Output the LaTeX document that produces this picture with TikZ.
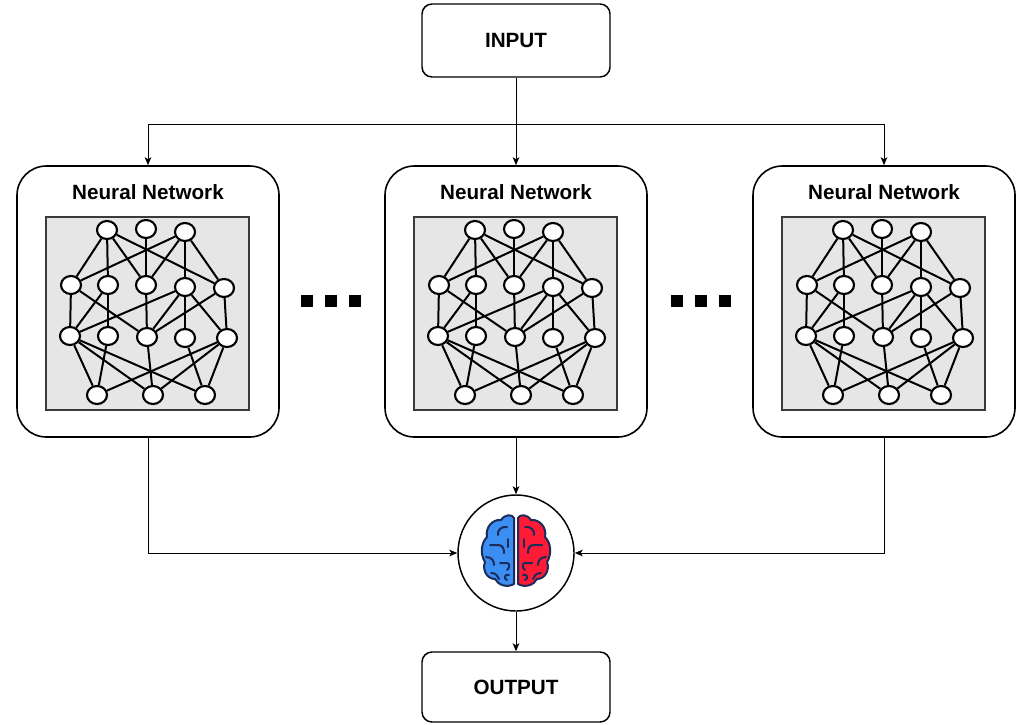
\documentclass[tikz,border=0pt]{standalone}
\usepackage{fontspec}
\setmainfont{Liberation Sans}
\usetikzlibrary{arrows.meta,shapes.geometric}
\definecolor{gridgray}{HTML}{E6E6E6}
\definecolor{gridedge}{HTML}{3A3A3A}
\definecolor{brainblue}{HTML}{3B8FF3}
\definecolor{brainred}{HTML}{FF1B35}
\definecolor{brainink}{HTML}{1C2B5A}
\begin{document}
\begin{tikzpicture}[x=0.75pt,y=-0.75pt,
  labelfont/.style={font=\fontsize{15.5}{18}\selectfont\bfseries},
  iobox/.style={draw, line width=1.1pt, rounded corners=7.5pt, minimum width=141pt, labelfont},
  panel/.style={draw, line width=1.2pt, rounded corners=22pt, minimum width=196.5pt, minimum height=203.25pt},
  grid/.style={draw=gridedge, fill=gridgray, line width=1.1pt, minimum width=152.25pt, minimum height=144.75pt},
  neuron/.style={ellipse, draw, fill=white, line width=1.6pt, inner sep=0pt, minimum width=15pt, minimum height=13.5pt},
  edge/.style={line width=1.5pt},
  conn/.style={line width=0.75pt, -{Stealth[length=6pt,width=5pt,inset=1.5pt]}},
  dotsq/.style={fill=black, minimum size=9pt, inner sep=0pt},
  brainline/.style={draw=brainink, line width=1.5pt, line cap=round, line join=round}
]
\useasboundingbox (0,0) rectangle (1019,724);

% three identical network panels
\foreach \p/\dx in {1/0, 2/368, 3/736} {
  \begin{scope}[shift={(\dx,0)}]
    \node[panel] (panel\p) at (148,301.5) {};
    \node[labelfont] (title\p) at (148,192) {Neural Network};
    \node[grid] (grid\p) at (147.5,313.5) {};
    \foreach \n/\x/\y in {T1/107/230, T2/146/229, T3/185/232,
                          A1/71/285, A2/108/285, A3/146/285, A4/185/287, A5/224/288,
                          B1/70/336, B2/108/336, B3/147/337, B4/185/338, B5/227/338,
                          C1/97/395, C2/153/395, C3/205/395}
      \node[neuron] (n\p\n) at (\x,\y) {};
    \foreach \a/\b in {T1/A1, T1/A2, T1/A3, T1/A5, T2/A3, T3/A1, T3/A3, T3/A4, T3/A5,
                       A1/B1, A1/B3, A2/B1, A2/B2, A3/B3, A4/B1, A4/B3, A4/B4, A4/B5, A5/B3, A5/B5,
                       B1/C1, B1/C2, B1/C3, B2/C1, B3/C2, B4/C3, B5/C1, B5/C2, B5/C3}
      \draw[edge] (n\p\a) -- (n\p\b);
  \end{scope}
}

% ellipsis marks between panels
\foreach \i/\x in {1/307, 2/331, 3/355, 4/677, 5/701, 6/725}
  \node[dotsq] (dot\i) at (\x,301) {};

% input, combiner and output
\node[iobox, minimum height=54.75pt] (input) at (516,40.5) {INPUT};
\node[iobox, minimum height=52.5pt] (output) at (516,687) {OUTPUT};
\node[circle, draw, line width=1.1pt, minimum size=87pt, inner sep=0pt] (brain) at (516,553) {};

% brain icon: two hemispheres
\begin{scope}[shift={(516,551)}]
  \foreach \s/\c in {1/brainblue, -1/brainred} {
    \begin{scope}[xscale=\s]
      \path[brainline, fill=\c] (-2,-33) -- (-2,33)
        .. controls (-9,37) and (-18,34) .. (-21,28)
        .. controls (-29,28) and (-34,19) .. (-31,11)
        .. controls (-36,3) and (-35,-8) .. (-29,-14)
        .. controls (-31,-24) and (-23,-32) .. (-15,-31)
        .. controls (-11,-37) and (-4,-37) .. cycle;
      \draw[brainline] (-9,-24) .. controls (-14,-25) and (-19,-21) .. (-18,-16);
      \draw[brainline] (-26,-6) -- (-18,-6) .. controls (-13,-6) and (-12,-2) .. (-12,2);
      \draw[brainline] (-8,-12) -- (-8,-4);
      \draw[brainline] (-30,6) .. controls (-24,6) and (-22,10) .. (-22,14);
      \draw[brainline] (-16,12) -- (-9,12) .. controls (-6,12) and (-6,17) .. (-9,19);
      \draw[brainline] (-25,22) .. controls (-20,22) and (-18,25) .. (-17,28);
      \draw[brainline] (-7,24) .. controls (-11,22) and (-13,28) .. (-9,29);
    \end{scope}
  }
\end{scope}

% connectors
\coordinate (split) at (516,124);
\draw[conn] (input) -- (panel2);
\draw[conn] (split) -| (panel1.north);
\draw[conn] (split) -| (panel3.north);
\draw[conn] (panel1.south) |- (brain.west);
\draw[conn] (panel2) -- (brain);
\draw[conn] (panel3.south) |- (brain.east);
\draw[conn] (brain) -- (output);
\end{tikzpicture}
\end{document}
